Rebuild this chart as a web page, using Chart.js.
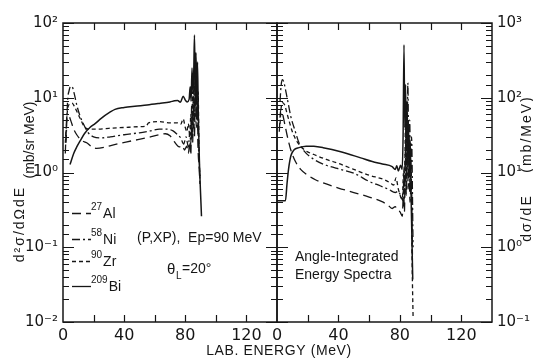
<!DOCTYPE html>
<html>
<head>
<meta charset="utf-8">
<script src="https://cdn.jsdelivr.net/npm/chart.js@4.4.0/dist/chart.umd.min.js"></script>
<style>
  html, body { margin: 0; padding: 0; background: #fff; }
  #wrap { position: relative; width: 533px; height: 360px; }
  #wrap canvas { position: absolute; left: 0; top: 0; }
</style>
</head>
<body>
<div id="wrap">
  <canvas id="left" width="533" height="360"></canvas>
  <canvas id="right" width="533" height="360"></canvas>
</div>
<script>
// energy axis (MeV), both panels
const xMax = 140;
const xLabels = [0, 40, 80, 120];

// left panel: d2sigma/dOmega dE (mb/sr MeV), theta = 20 deg
const leftAlE = [1.5, 2.5, 3.5, 5, 7, 9, 12, 15.5, 19, 22, 28, 35, 45, 56, 63, 67, 70, 72, 74, 76, 78, 79.5, 81, 82, 83, 83.6, 84.2, 84.8, 85.4, 86, 86.6, 87.2, 87.8, 88.4, 89, 89.6];
const leftAlV = [1.8, 5.5, 5.9, 5.0, 3.8, 3.2, 2.7, 2.5, 2.2, 2.1, 2.2, 2.4, 2.65, 2.95, 3.2, 3.3, 3.1, 2.75, 2.4, 2.2, 2.3, 2.0, 2.25, 1.8, 2.6, 1.7, 5, 2.5, 8, 3, 14, 4, 9, 2, 1.2, 0.7];
const leftNiE = [2, 3, 4, 5, 6, 7.5, 9, 11, 13.5, 16.5, 20, 25, 31, 40, 50, 57, 63, 68, 72, 75, 77, 79, 80.5, 82, 83, 83.6, 84.2, 84.8, 85.4, 86, 86.6, 87.2, 87.8, 88.4, 89, 89.6];
const leftNiV = [2.5, 9, 12.5, 14.2, 14, 11, 8, 5.8, 4.4, 3.4, 3.0, 2.9, 3.0, 3.2, 3.4, 3.6, 3.8, 3.8, 3.6, 3.2, 2.9, 2.4, 3.0, 2.2, 3.5, 2.4, 8, 3.5, 18, 5, 30, 6, 14, 3, 1.5, 0.8];
const leftZrE = [1.5, 3, 4.5, 6, 7.5, 9, 11, 14.4, 18, 22, 30, 40, 50, 54.5, 56, 63, 70, 75, 77, 78.6, 80, 81, 82, 83, 83.6, 84.2, 84.8, 85.4, 86, 86.6, 87.2, 87.8, 88.4, 89, 89.6];
const leftZrV = [2.5, 7, 8.3, 8.5, 7.6, 6.6, 5.4, 4.0, 3.8, 3.8, 3.9, 4.0, 4.1, 4.2, 4.6, 4.8, 4.6, 4.6, 4.4, 5.2, 4.0, 3.5, 4.5, 3.0, 6, 3.5, 12, 5, 26, 8, 22, 5, 12, 1.8, 0.9];
const leftBiE = [4.6, 7, 9, 11, 14, 17.6, 21, 25, 30.7, 34, 40, 47, 55, 63, 70, 73, 75, 76.8, 78.6, 80, 81.2, 82.5, 83.2, 83.8, 84.4, 85, 85.5, 86, 86.5, 87, 87.5, 88, 88.5, 89.2, 90.6];
const leftBiV = [1.28, 1.8, 2.2, 2.6, 3.3, 4.0, 4.5, 5.3, 6.4, 7.0, 7.4, 7.7, 8.0, 8.4, 8.8, 9.1, 9.2, 8.7, 10.5, 9.3, 8.8, 9.5, 14, 9, 25, 12, 20, 69, 15, 40, 10, 30, 6, 1.5, 0.26];

// right panel: angle-integrated dsigma/dE (mb/MeV)
const rightAlE = [1.5, 2.4, 3.5, 5, 6.5, 9, 12, 15.4, 20, 25, 30.6, 40, 50, 60, 68, 72, 75, 77, 78.5, 80, 81.6, 82.4, 83, 83.6, 84.2, 84.8, 85.4, 86, 86.6, 87.4, 88.2];
const rightAlV = [35, 69, 62, 45, 32, 20, 14, 11, 9.2, 8, 7.2, 6.2, 5.4, 4.7, 4.1, 3.7, 3.3, 3.5, 3.1, 3.0, 2.6, 6, 3, 20, 5, 35, 6, 15, 4, 8, 0.8];
const rightNiE = [2, 2.6, 3.5, 4.5, 6, 7.5, 9, 12, 14.3, 18, 24, 32, 41.5, 50, 60, 67.5, 73, 77, 79, 80.5, 82, 82.8, 83.4, 84, 84.6, 85.2, 85.8, 86.4, 87, 87.6, 88.6];
const rightNiV = [90, 140, 174, 160, 115, 80, 56, 35, 25, 19, 15, 12.5, 11, 9.8, 7.6, 6.6, 5.9, 5.4, 5.6, 4.9, 4.2, 12, 5, 60, 12, 158, 20, 50, 10, 30, 1.0];
const rightZrE = [2, 2.6, 3.5, 5, 6.5, 8, 10, 13, 18, 24, 32, 41.5, 50, 60, 70, 74, 76, 77.5, 79, 81.6, 82.4, 83, 83.6, 84.2, 84.8, 85.4, 86, 86.6, 87.3, 88, 88.6];
const rightZrV = [45, 70, 86, 80, 62, 48, 35, 26, 20, 17.4, 15, 12.9, 11, 9.2, 8.0, 7.2, 6.8, 8.5, 6.0, 4.4, 10, 4.5, 40, 8, 51, 10, 30, 6, 14, 0.6, 0.12];
const rightBiE = [0, 5.5, 6.5, 7.5, 9, 11, 14.3, 19, 24, 30, 41.5, 54.5, 62, 68.6, 75, 77, 78, 79, 80.5, 81.5, 82.1, 82.7, 83.2, 83.7, 84.2, 84.7, 85.2, 85.7, 86.2, 86.8, 87.5, 88.4];
const rightBiV = [4.2, 4.2, 7, 11, 16.6, 20, 21.5, 22.5, 22.4, 21.5, 19, 15.7, 14, 13, 12, 11, 12.3, 10.5, 12.5, 11, 30, 510, 40, 150, 25, 90, 15, 40, 10, 25, 3, 0.37];

const isotopes = [['27', 'Al'], ['58', 'Ni'], ['90', 'Zr'], ['209', 'Bi']];

const INK = '#161616';
const TICK_FONT = '"DejaVu Sans"';
const TEXT_FONT = '"Liberation Sans"';
const DASH = { Al: [9, 5], Ni: [8, 3, 2, 3], Zr: [4, 3], Bi: [] };

const SUP = { '-': '⁻', '0': '⁰', '1': '¹', '2': '²', '3': '³' };
const isDecade = v => Math.abs(Math.log10(v) - Math.round(Math.log10(v))) < 1e-6;
const decadeLabel = v => isDecade(v) ? '10' + String(Math.round(Math.log10(v))).split('').map(c => SUP[c]).join('') : '';

function series(e, v, el) {
  return {
    data: e.map((x, i) => ({ x, y: v[i] })),
    borderColor: INK,
    borderWidth: el === 'Bi' ? 1.5 : 1.3,
    borderDash: DASH[el],
    pointRadius: 0,
    fill: false,
    cubicInterpolationMode: 'monotone'
  };
}

function vText(ctx, text, x, y) {
  ctx.save();
  ctx.translate(x, y);
  ctx.rotate(-Math.PI / 2);
  ctx.fillText(text, 0, 0);
  ctx.restore();
}

// frame with inward ticks on all four sides
const frame = {
  id: 'frame',
  afterDatasetsDraw(chart) {
    const { ctx, chartArea: a, scales: { x, y } } = chart;
    ctx.save();
    ctx.strokeStyle = INK;
    ctx.lineWidth = 1.5;
    ctx.strokeRect(a.left, a.top, a.right - a.left, a.bottom - a.top);
    ctx.lineWidth = 1.2;
    ctx.beginPath();
    y.ticks.forEach(t => {
      const py = Math.round(y.getPixelForValue(t.value)) + 0.5;
      const len = isDecade(t.value) ? 11 : 6;
      ctx.moveTo(a.left, py); ctx.lineTo(a.left + len, py);
      ctx.moveTo(a.right, py); ctx.lineTo(a.right - len, py);
    });
    x.ticks.forEach(t => {
      if (t.value <= x.min || t.value >= x.max) return;
      const px = Math.round(x.getPixelForValue(t.value)) + 0.5;
      ctx.moveTo(px, a.bottom); ctx.lineTo(px, a.bottom - 7);
      ctx.moveTo(px, a.top); ctx.lineTo(px, a.top + 7);
    });
    ctx.stroke();
    ctx.restore();
  }
};

const leftNotes = {
  id: 'leftNotes',
  afterDraw(chart) {
    const ctx = chart.ctx;
    ctx.save();
    ctx.fillStyle = INK;
    ctx.strokeStyle = INK;
    ctx.textBaseline = 'middle';
    ctx.textAlign = 'center';
    ctx.font = `14px ${TEXT_FONT}`;
    ctx.letterSpacing = '2px';
    vText(ctx, 'd²σ/dΩdE', 20, 224);
    ctx.letterSpacing = '0px';
    vText(ctx, '(mb/sr MeV)', 30, 140);
    ctx.letterSpacing = '0.6px';
    ctx.fillText('LAB. ENERGY (MeV)', 279, 351);
    ctx.letterSpacing = '0px';

    const rowY = [213, 239, 261, 286];
    ctx.textAlign = 'left';
    ctx.lineWidth = 1.3;
    isotopes.forEach(([mass, el], i) => {
      const y = rowY[i];
      ctx.setLineDash(DASH[el]);
      ctx.beginPath();
      ctx.moveTo(72, y + 0.5); ctx.lineTo(91, y + 0.5);
      ctx.stroke();
      ctx.setLineDash([]);
      ctx.font = `10px ${TEXT_FONT}`;
      ctx.fillText(mass, 91, y - 6);
      const w = ctx.measureText(mass).width;
      ctx.font = `14px ${TEXT_FONT}`;
      ctx.fillText(el, 91 + w + 1, y + 1);
    });

    ctx.font = `14px ${TEXT_FONT}`;
    ctx.fillText('(P,XP),  Ep=90 MeV', 137, 238);
    ctx.font = `15px ${TEXT_FONT}`;
    ctx.fillText('θ', 167, 270);
    ctx.font = `10px ${TEXT_FONT}`;
    ctx.fillText('L', 176, 276);
    ctx.font = `14px ${TEXT_FONT}`;
    ctx.fillText('=20°', 182, 269);
    ctx.restore();
  }
};

const rightNotes = {
  id: 'rightNotes',
  afterDraw(chart) {
    const ctx = chart.ctx;
    ctx.save();
    ctx.fillStyle = INK;
    ctx.textBaseline = 'middle';
    ctx.textAlign = 'left';
    ctx.font = `14px ${TEXT_FONT}`;
    ctx.fillText('Angle-Integrated', 295, 257);
    ctx.fillText('Energy Spectra', 295, 275);
    ctx.textAlign = 'center';
    ctx.letterSpacing = '2px';
    vText(ctx, '(mb/MeV)', 527, 134);
    vText(ctx, 'dσ/dE', 527, 218);
    ctx.restore();
  }
};

function panel(id, side, datasets, yMin, yMax, notes) {
  return new Chart(document.getElementById(id), {
    type: 'line',
    data: { datasets },
    options: {
      responsive: false,
      animation: false,
      devicePixelRatio: 1,
      layout: {
        padding: side === 'left'
          ? { left: 0, top: 23, right: 533 - 277, bottom: 0 }
          : { left: 277, top: 23, right: 0, bottom: 0 }
      },
      plugins: { legend: { display: false }, tooltip: { enabled: false } },
      scales: {
        x: {
          type: 'linear', min: 0, max: xMax,
          grid: { display: false, drawTicks: false },
          border: { display: false },
          ticks: {
            stepSize: 20, autoSkip: false, maxRotation: 0, padding: 4,
            color: INK, font: { size: 16, family: TICK_FONT },
            callback: v => xLabels.includes(v) ? String(v) : ''
          },
          afterFit: s => { s.height = 38; }
        },
        y: {
          type: 'logarithmic', position: side, min: yMin, max: yMax,
          grid: { display: false, drawTicks: false },
          border: { display: false },
          ticks: {
            autoSkip: false, padding: 5,
            color: INK, font: { size: 15, family: TICK_FONT },
            callback: v => decadeLabel(v)
          },
          afterFit: s => { s.width = side === 'left' ? 63 : 41; }
        }
      }
    },
    plugins: [frame, notes]
  });
}

panel('left', 'left', [
  series(leftAlE, leftAlV, 'Al'),
  series(leftNiE, leftNiV, 'Ni'),
  series(leftZrE, leftZrV, 'Zr'),
  series(leftBiE, leftBiV, 'Bi')
], 0.01, 100, leftNotes);

panel('right', 'right', [
  series(rightAlE, rightAlV, 'Al'),
  series(rightNiE, rightNiV, 'Ni'),
  series(rightZrE, rightZrV, 'Zr'),
  series(rightBiE, rightBiV, 'Bi')
], 0.1, 1000, rightNotes);
</script>
</body>
</html>
